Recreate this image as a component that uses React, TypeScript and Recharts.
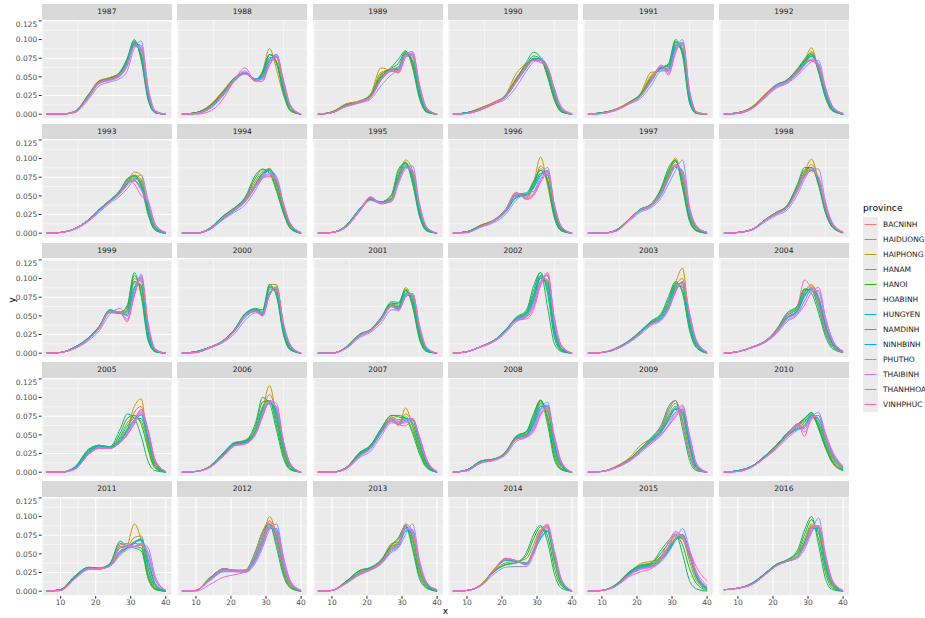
import { CartesianGrid, Line, LineChart, ReferenceLine, XAxis, YAxis } from "recharts"

const provinces = [
  "BACNINH", "HAIDUONG", "HAIPHONG", "HANAM", "HANOI", "HOABINH", "HUNGYEN",
  "NAMDINH", "NINHBINH", "PHUTHO", "THAIBINH", "THANHHOA", "VINHPHUC",
]
const colors = [
  "#F8766D", "#E18A00", "#BE9C00", "#8CAB00", "#24B700", "#00BE70", "#00C1AB",
  "#00BBDA", "#00ACFC", "#8B93FF", "#D575FE", "#F962DD", "#FF65AC",
]
const years = [
  1987, 1988, 1989, 1990, 1991, 1992, 1993, 1994, 1995, 1996, 1997, 1998, 1999, 2000, 2001,
  2002, 2003, 2004, 2005, 2006, 2007, 2008, 2009, 2010, 2011, 2012, 2013, 2014, 2015, 2016,
]
// x positions where the densities were read
const xs = [6, 10, 14, 18, 21, 24, 27, 29, 31, 33, 35, 37, 40]
const xTicks = [10, 20, 30, 40]
const yTicks = [0, 0.025, 0.05, 0.075, 0.1, 0.125]
const xMinor = [5, 15, 25, 35]
const yMinor = [0.0125, 0.0375, 0.0625, 0.0875, 0.1125]

// density x 1000, one row per province (same order as provinces), one column per xs
const d1987 = [
  [0, 0, 3, 24, 42, 47, 53, 68, 92, 85, 28, 3, 0],
  [0, 0, 4, 26, 44, 49, 55, 70, 93, 80, 24, 2, 0],
  [0, 0, 4, 27, 45, 49, 56, 72, 94, 78, 22, 2, 0],
  [0, 0, 3, 25, 44, 48, 56, 72, 96, 78, 22, 2, 0],
  [0, 0, 3, 26, 44, 48, 57, 74, 98, 74, 20, 2, 0],
  [0, 0, 3, 26, 43, 47, 57, 75, 100, 72, 18, 2, 0],
  [0, 0, 3, 25, 43, 47, 55, 72, 97, 80, 22, 2, 0],
  [0, 0, 3, 24, 43, 46, 53, 68, 95, 88, 26, 3, 0],
  [0, 0, 3, 23, 42, 46, 52, 66, 94, 92, 28, 3, 0],
  [0, 0, 2, 20, 38, 43, 48, 58, 88, 98, 36, 5, 0],
  [0, 0, 3, 22, 41, 45, 51, 64, 90, 92, 32, 4, 0],
  [0, 0, 3, 23, 42, 46, 52, 66, 91, 88, 30, 4, 0],
  [0, 0, 3, 24, 43, 47, 53, 67, 91, 86, 30, 3, 0],
]
const d1988 = [
  [0, 2, 10, 30, 46, 54, 46, 50, 70, 76, 40, 10, 0],
  [0, 2, 12, 32, 48, 55, 45, 54, 80, 68, 32, 6, 0],
  [0, 2, 12, 33, 49, 55, 44, 58, 88, 60, 25, 4, 0],
  [0, 2, 11, 31, 48, 55, 45, 54, 80, 70, 30, 6, 0],
  [0, 2, 11, 31, 48, 55, 46, 55, 80, 70, 30, 5, 0],
  [0, 2, 10, 30, 48, 56, 47, 57, 80, 68, 28, 5, 0],
  [0, 1, 9, 29, 47, 56, 47, 52, 76, 76, 35, 8, 0],
  [0, 1, 9, 28, 46, 55, 47, 50, 74, 78, 38, 9, 0],
  [0, 1, 8, 27, 45, 55, 47, 49, 72, 80, 40, 10, 0],
  [0, 1, 7, 26, 44, 54, 47, 46, 66, 80, 46, 12, 0],
  [0, 1, 9, 29, 46, 56, 45, 47, 70, 78, 42, 10, 0],
  [0, 1, 9, 29, 47, 58, 45, 47, 70, 77, 42, 10, 0],
  [0, 0, 4, 22, 46, 62, 44, 44, 66, 76, 44, 11, 0],
]
const d1989 = [
  [0, 3, 12, 17, 24, 50, 58, 60, 78, 76, 32, 6, 0],
  [0, 3, 13, 18, 26, 56, 59, 58, 80, 72, 28, 4, 0],
  [0, 3, 14, 18, 27, 62, 58, 56, 82, 68, 24, 3, 0],
  [0, 3, 13, 17, 25, 54, 60, 62, 82, 70, 26, 4, 0],
  [0, 3, 12, 17, 25, 52, 62, 68, 84, 66, 24, 3, 0],
  [0, 2, 12, 17, 25, 50, 63, 74, 85, 62, 20, 3, 0],
  [0, 2, 12, 17, 24, 50, 60, 64, 82, 72, 28, 5, 0],
  [0, 2, 11, 16, 23, 48, 59, 60, 80, 78, 32, 6, 0],
  [0, 2, 11, 16, 23, 46, 58, 60, 80, 80, 34, 7, 0],
  [0, 2, 10, 15, 20, 38, 53, 60, 80, 84, 40, 9, 0],
  [0, 2, 11, 16, 22, 45, 58, 58, 78, 82, 38, 8, 0],
  [0, 2, 11, 16, 23, 46, 59, 57, 78, 80, 36, 7, 0],
  [0, 2, 11, 17, 23, 47, 60, 55, 76, 82, 38, 8, 0],
]
const d1990 = [
  [0, 2, 7, 16, 24, 44, 64, 73, 72, 58, 28, 6, 0],
  [0, 2, 8, 16, 25, 48, 66, 74, 73, 55, 24, 5, 0],
  [0, 2, 9, 17, 26, 54, 68, 73, 74, 52, 20, 4, 0],
  [0, 2, 8, 16, 25, 48, 66, 75, 73, 54, 22, 4, 0],
  [0, 2, 7, 16, 24, 46, 67, 78, 74, 52, 20, 3, 0],
  [0, 2, 7, 16, 24, 46, 70, 83, 76, 50, 18, 3, 0],
  [0, 2, 7, 16, 24, 45, 65, 75, 74, 58, 26, 5, 0],
  [0, 2, 7, 15, 23, 44, 63, 74, 74, 60, 28, 6, 0],
  [0, 1, 6, 15, 23, 42, 62, 73, 75, 62, 30, 7, 0],
  [0, 1, 6, 14, 20, 36, 58, 70, 74, 64, 34, 10, 1],
  [0, 1, 6, 15, 23, 42, 63, 72, 72, 62, 32, 8, 0],
  [0, 1, 6, 15, 23, 43, 64, 72, 70, 62, 32, 8, 0],
  [0, 1, 7, 16, 24, 44, 66, 72, 69, 62, 30, 7, 0],
]
const d1991 = [
  [0, 2, 6, 16, 25, 46, 62, 58, 88, 92, 24, 2, 0],
  [0, 2, 7, 17, 27, 52, 60, 62, 92, 85, 20, 2, 0],
  [0, 2, 7, 17, 28, 56, 58, 62, 94, 82, 18, 1, 0],
  [0, 2, 6, 16, 26, 50, 62, 64, 96, 84, 18, 1, 0],
  [0, 2, 6, 16, 26, 48, 63, 66, 98, 82, 17, 1, 0],
  [0, 2, 6, 16, 26, 48, 62, 68, 100, 78, 15, 1, 0],
  [0, 2, 6, 16, 25, 46, 63, 64, 96, 88, 20, 2, 0],
  [0, 1, 6, 15, 24, 44, 62, 60, 92, 94, 24, 2, 0],
  [0, 1, 6, 15, 24, 43, 62, 58, 90, 96, 26, 2, 0],
  [0, 1, 5, 14, 21, 38, 58, 58, 86, 100, 32, 3, 0],
  [0, 1, 6, 15, 24, 44, 64, 56, 86, 96, 30, 3, 0],
  [0, 1, 6, 15, 24, 45, 65, 54, 84, 96, 30, 3, 0],
  [0, 1, 6, 15, 24, 46, 66, 52, 82, 96, 30, 3, 0],
]
const d1992 = [
  [0, 2, 8, 26, 38, 44, 56, 67, 72, 62, 30, 8, 0],
  [0, 2, 9, 27, 39, 45, 57, 70, 84, 60, 26, 6, 0],
  [0, 2, 10, 28, 40, 45, 58, 72, 89, 58, 22, 4, 0],
  [0, 2, 9, 27, 39, 45, 58, 70, 80, 60, 26, 6, 0],
  [0, 2, 9, 27, 39, 46, 60, 72, 80, 58, 24, 5, 0],
  [0, 2, 8, 26, 38, 46, 61, 74, 82, 56, 22, 5, 0],
  [0, 2, 8, 26, 39, 45, 58, 70, 78, 60, 26, 6, 0],
  [0, 2, 8, 26, 39, 44, 56, 68, 78, 64, 28, 7, 0],
  [0, 1, 8, 25, 39, 44, 55, 67, 77, 66, 30, 8, 0],
  [0, 1, 7, 23, 35, 41, 52, 62, 70, 72, 36, 11, 1],
  [0, 1, 8, 24, 36, 42, 54, 65, 74, 68, 34, 10, 1],
  [0, 1, 8, 25, 37, 43, 56, 66, 73, 66, 34, 10, 1],
  [0, 2, 8, 26, 38, 44, 57, 68, 72, 62, 32, 9, 1],
]
const d1993 = [
  [0, 1, 6, 18, 31, 43, 54, 66, 74, 68, 34, 8, 0],
  [0, 1, 6, 18, 31, 43, 55, 67, 78, 72, 32, 6, 0],
  [0, 1, 6, 18, 31, 43, 55, 68, 82, 78, 28, 4, 0],
  [0, 1, 6, 18, 31, 43, 56, 70, 76, 70, 28, 5, 0],
  [0, 1, 6, 18, 32, 44, 57, 72, 77, 66, 26, 4, 0],
  [0, 1, 6, 18, 32, 44, 58, 73, 77, 62, 24, 4, 0],
  [0, 1, 6, 18, 31, 43, 56, 68, 74, 64, 32, 6, 0],
  [0, 1, 6, 18, 31, 43, 55, 67, 71, 60, 36, 8, 0],
  [0, 1, 6, 18, 31, 42, 54, 66, 70, 58, 38, 9, 0],
  [0, 1, 5, 16, 28, 40, 50, 60, 72, 78, 44, 12, 1],
  [0, 1, 6, 17, 30, 42, 53, 64, 72, 72, 40, 10, 1],
  [0, 1, 6, 17, 30, 42, 54, 68, 70, 58, 40, 10, 1],
  [0, 1, 6, 17, 30, 42, 55, 70, 66, 50, 42, 12, 1],
]
const d1994 = [
  [0, 0, 6, 22, 32, 44, 66, 80, 84, 66, 34, 10, 0],
  [0, 0, 6, 22, 32, 44, 66, 80, 86, 66, 32, 8, 0],
  [0, 0, 6, 22, 32, 44, 66, 80, 87, 66, 30, 8, 0],
  [0, 0, 6, 23, 33, 46, 70, 82, 84, 62, 30, 8, 0],
  [0, 0, 7, 24, 34, 47, 74, 85, 82, 58, 28, 6, 0],
  [0, 0, 7, 24, 34, 48, 78, 86, 80, 56, 26, 6, 0],
  [0, 0, 6, 22, 32, 44, 66, 80, 84, 68, 34, 10, 0],
  [0, 0, 6, 21, 31, 43, 64, 78, 85, 70, 36, 10, 0],
  [0, 0, 5, 20, 30, 42, 62, 76, 85, 72, 38, 11, 0],
  [0, 0, 5, 19, 28, 38, 58, 74, 84, 76, 40, 13, 1],
  [0, 0, 6, 21, 31, 42, 62, 74, 80, 72, 38, 12, 1],
  [0, 0, 6, 22, 32, 44, 64, 74, 78, 72, 38, 12, 1],
  [0, 0, 6, 22, 32, 45, 66, 74, 76, 70, 36, 11, 1],
]
const d1995 = [
  [0, 1, 9, 32, 44, 40, 44, 70, 90, 80, 32, 6, 0],
  [0, 1, 10, 33, 45, 41, 46, 74, 94, 78, 28, 5, 0],
  [0, 1, 10, 33, 45, 41, 46, 74, 98, 84, 26, 4, 0],
  [0, 1, 10, 33, 45, 41, 48, 78, 94, 74, 26, 4, 0],
  [0, 1, 10, 33, 46, 42, 50, 82, 95, 70, 24, 4, 0],
  [0, 1, 10, 33, 46, 42, 52, 86, 94, 66, 22, 3, 0],
  [0, 1, 10, 33, 46, 41, 46, 76, 92, 76, 30, 5, 0],
  [0, 1, 9, 32, 46, 40, 44, 72, 90, 82, 32, 6, 0],
  [0, 1, 9, 32, 47, 40, 43, 70, 88, 84, 34, 7, 0],
  [0, 1, 8, 30, 44, 40, 42, 66, 86, 90, 40, 9, 0],
  [0, 1, 9, 31, 48, 40, 44, 70, 88, 84, 36, 8, 0],
  [0, 1, 8, 31, 49, 40, 44, 70, 88, 82, 36, 8, 0],
  [0, 1, 8, 30, 48, 39, 44, 70, 88, 84, 36, 8, 0],
]
const d1996 = [
  [0, 2, 10, 18, 30, 50, 50, 62, 80, 78, 30, 6, 0],
  [0, 2, 11, 18, 31, 52, 48, 62, 90, 72, 24, 4, 0],
  [0, 2, 11, 19, 32, 54, 47, 66, 102, 64, 20, 3, 0],
  [0, 2, 10, 18, 31, 52, 50, 66, 86, 72, 24, 4, 0],
  [0, 2, 10, 18, 31, 52, 52, 68, 84, 70, 22, 4, 0],
  [0, 2, 10, 18, 31, 52, 54, 70, 84, 68, 20, 3, 0],
  [0, 2, 10, 18, 30, 50, 52, 64, 80, 78, 28, 5, 0],
  [0, 2, 9, 17, 29, 48, 52, 62, 80, 82, 32, 6, 0],
  [0, 1, 9, 17, 28, 47, 52, 60, 78, 84, 34, 7, 0],
  [0, 1, 8, 15, 25, 44, 54, 56, 76, 88, 38, 9, 0],
  [0, 1, 9, 17, 30, 52, 48, 54, 72, 84, 36, 8, 0],
  [0, 1, 9, 18, 31, 54, 46, 52, 70, 82, 36, 8, 0],
  [0, 1, 9, 18, 31, 55, 45, 50, 68, 80, 36, 8, 0],
]
const d1997 = [
  [0, 0, 3, 19, 31, 37, 54, 74, 90, 78, 30, 8, 1],
  [0, 0, 4, 20, 32, 38, 56, 78, 96, 72, 24, 5, 0],
  [0, 0, 4, 20, 32, 38, 56, 80, 101, 66, 18, 3, 0],
  [0, 0, 4, 20, 32, 38, 58, 82, 96, 66, 20, 4, 0],
  [0, 0, 4, 20, 32, 39, 60, 84, 98, 64, 18, 4, 0],
  [0, 0, 4, 20, 32, 39, 62, 88, 98, 60, 16, 3, 0],
  [0, 0, 4, 20, 32, 38, 56, 78, 92, 74, 24, 6, 1],
  [0, 0, 3, 19, 31, 37, 54, 74, 90, 80, 28, 7, 1],
  [0, 0, 3, 19, 30, 36, 52, 72, 88, 84, 30, 8, 1],
  [0, 0, 3, 17, 28, 34, 48, 66, 84, 98, 36, 10, 1],
  [0, 0, 3, 19, 31, 37, 54, 74, 90, 82, 32, 9, 1],
  [0, 0, 3, 19, 31, 37, 55, 76, 90, 80, 32, 9, 1],
  [0, 0, 3, 19, 31, 38, 56, 76, 92, 78, 30, 8, 1],
]
const d1998 = [
  [0, 1, 5, 18, 26, 34, 58, 76, 84, 72, 36, 12, 1],
  [0, 1, 5, 18, 27, 35, 60, 80, 92, 72, 32, 10, 1],
  [0, 1, 5, 18, 27, 35, 60, 82, 99, 70, 28, 8, 0],
  [0, 1, 5, 19, 28, 36, 62, 82, 88, 68, 30, 9, 1],
  [0, 1, 5, 19, 28, 37, 64, 85, 88, 66, 28, 8, 1],
  [0, 1, 5, 19, 28, 37, 66, 88, 88, 64, 27, 8, 1],
  [0, 1, 5, 18, 27, 35, 60, 80, 86, 70, 32, 10, 1],
  [0, 1, 5, 18, 27, 35, 58, 78, 84, 72, 34, 11, 1],
  [0, 1, 5, 18, 26, 34, 57, 76, 84, 74, 36, 12, 1],
  [0, 1, 4, 16, 24, 31, 52, 72, 86, 86, 42, 14, 2],
  [0, 1, 5, 18, 26, 34, 57, 76, 84, 76, 38, 13, 1],
  [0, 1, 5, 18, 27, 34, 58, 78, 84, 74, 36, 12, 1],
  [0, 1, 5, 18, 27, 35, 60, 80, 84, 72, 34, 11, 1],
]
const d1999 = [
  [0, 1, 8, 20, 35, 55, 54, 54, 88, 96, 30, 4, 0],
  [0, 1, 8, 20, 35, 56, 53, 56, 94, 92, 24, 3, 0],
  [0, 1, 8, 20, 35, 56, 53, 58, 96, 90, 22, 3, 0],
  [0, 1, 8, 20, 35, 57, 54, 60, 100, 86, 20, 2, 0],
  [0, 1, 8, 21, 36, 58, 55, 62, 104, 80, 18, 2, 0],
  [0, 1, 8, 21, 36, 58, 55, 64, 108, 76, 16, 2, 0],
  [0, 1, 8, 20, 35, 56, 53, 56, 96, 90, 22, 3, 0],
  [0, 1, 8, 20, 34, 55, 53, 52, 88, 98, 28, 4, 0],
  [0, 1, 7, 19, 33, 54, 54, 50, 84, 100, 32, 4, 0],
  [0, 1, 6, 17, 30, 52, 60, 50, 78, 106, 40, 6, 0],
  [0, 1, 7, 19, 33, 55, 55, 46, 80, 104, 36, 5, 0],
  [0, 1, 7, 19, 34, 56, 54, 44, 78, 102, 36, 5, 0],
  [0, 1, 7, 19, 34, 56, 54, 42, 76, 102, 38, 5, 0],
]
const d2000 = [
  [0, 2, 8, 17, 30, 50, 56, 52, 80, 86, 34, 8, 0],
  [0, 2, 8, 17, 31, 51, 57, 52, 88, 84, 30, 6, 0],
  [0, 2, 8, 17, 31, 51, 57, 52, 92, 92, 28, 5, 0],
  [0, 2, 8, 17, 31, 52, 58, 54, 88, 82, 28, 5, 0],
  [0, 2, 8, 18, 32, 53, 59, 56, 90, 78, 26, 5, 0],
  [0, 2, 8, 18, 32, 53, 60, 58, 92, 76, 24, 4, 0],
  [0, 2, 8, 17, 31, 52, 58, 54, 86, 82, 30, 6, 0],
  [0, 2, 8, 17, 30, 50, 57, 52, 82, 86, 34, 8, 0],
  [0, 1, 7, 16, 29, 48, 56, 52, 80, 88, 36, 9, 0],
  [0, 1, 7, 15, 26, 44, 54, 54, 78, 90, 40, 11, 0],
  [0, 1, 8, 17, 30, 50, 56, 50, 78, 88, 38, 10, 0],
  [0, 1, 8, 17, 30, 51, 57, 50, 78, 88, 38, 10, 0],
  [0, 1, 8, 17, 30, 51, 56, 50, 78, 88, 38, 10, 0],
]
const d2001 = [
  [0, 0, 7, 24, 30, 44, 64, 60, 78, 76, 30, 5, 0],
  [0, 0, 8, 25, 31, 46, 64, 60, 84, 72, 26, 4, 0],
  [0, 0, 8, 25, 31, 46, 64, 62, 88, 68, 22, 3, 0],
  [0, 0, 8, 25, 31, 46, 66, 64, 84, 68, 22, 3, 0],
  [0, 0, 8, 25, 31, 46, 67, 66, 84, 66, 20, 3, 0],
  [0, 0, 8, 26, 32, 48, 69, 68, 86, 62, 18, 2, 0],
  [0, 0, 8, 25, 31, 46, 65, 62, 82, 72, 26, 4, 0],
  [0, 0, 7, 24, 31, 45, 64, 60, 80, 76, 30, 5, 0],
  [0, 0, 7, 23, 30, 44, 63, 60, 78, 78, 32, 6, 0],
  [0, 0, 6, 21, 28, 40, 58, 58, 76, 80, 38, 8, 0],
  [0, 0, 7, 23, 30, 44, 62, 58, 76, 80, 36, 7, 0],
  [0, 0, 7, 24, 31, 45, 64, 58, 76, 80, 34, 7, 0],
  [0, 0, 7, 24, 31, 45, 63, 57, 75, 80, 34, 7, 0],
]
const d2002 = [
  [0, 2, 9, 18, 30, 44, 50, 68, 96, 98, 38, 8, 0],
  [0, 2, 9, 18, 30, 44, 50, 70, 100, 96, 34, 6, 0],
  [0, 2, 9, 18, 30, 44, 49, 70, 102, 98, 32, 5, 0],
  [0, 2, 9, 18, 31, 46, 54, 78, 104, 88, 26, 4, 0],
  [0, 2, 9, 18, 31, 47, 56, 84, 108, 80, 20, 3, 0],
  [0, 2, 9, 18, 31, 48, 58, 90, 108, 62, 12, 2, 0],
  [0, 2, 9, 18, 31, 46, 54, 78, 104, 86, 26, 4, 0],
  [0, 2, 9, 18, 31, 46, 53, 74, 102, 92, 30, 5, 0],
  [0, 2, 9, 18, 30, 45, 52, 72, 100, 94, 32, 6, 0],
  [0, 2, 8, 16, 27, 42, 50, 68, 96, 104, 40, 9, 0],
  [0, 2, 9, 17, 29, 44, 50, 64, 94, 104, 42, 9, 0],
  [0, 2, 9, 17, 29, 44, 48, 62, 94, 106, 44, 10, 0],
  [0, 2, 9, 17, 29, 44, 46, 58, 90, 108, 46, 10, 0],
]
const d2003 = [
  [0, 1, 6, 16, 27, 39, 46, 62, 84, 92, 48, 14, 1],
  [0, 1, 6, 16, 27, 39, 46, 62, 90, 100, 44, 12, 1],
  [0, 1, 6, 16, 27, 39, 46, 62, 94, 114, 40, 10, 1],
  [0, 1, 6, 17, 28, 41, 50, 68, 92, 88, 38, 10, 1],
  [0, 1, 6, 17, 29, 42, 52, 72, 94, 84, 34, 8, 0],
  [0, 1, 7, 18, 30, 43, 54, 76, 96, 80, 30, 7, 0],
  [0, 1, 6, 17, 28, 41, 50, 68, 90, 90, 40, 10, 1],
  [0, 1, 6, 17, 28, 40, 48, 64, 88, 94, 44, 12, 1],
  [0, 1, 6, 16, 27, 40, 47, 62, 86, 95, 46, 13, 1],
  [0, 1, 5, 15, 25, 37, 44, 58, 82, 96, 54, 17, 2],
  [0, 1, 6, 16, 27, 39, 46, 60, 84, 96, 50, 15, 1],
  [0, 1, 6, 16, 27, 39, 46, 60, 84, 96, 50, 15, 1],
  [0, 1, 6, 16, 27, 39, 46, 60, 82, 96, 52, 16, 1],
]
const d2004 = [
  [0, 2, 8, 16, 28, 46, 58, 76, 88, 76, 40, 16, 2],
  [0, 2, 8, 16, 28, 46, 58, 80, 90, 74, 36, 13, 2],
  [0, 2, 8, 16, 28, 46, 58, 82, 92, 72, 34, 12, 1],
  [0, 2, 8, 17, 30, 50, 62, 84, 86, 66, 30, 10, 1],
  [0, 2, 8, 17, 31, 52, 64, 86, 84, 60, 26, 8, 1],
  [0, 2, 8, 17, 32, 54, 64, 86, 80, 54, 22, 6, 1],
  [0, 2, 8, 17, 30, 50, 60, 82, 86, 66, 32, 11, 1],
  [0, 2, 8, 16, 29, 48, 58, 78, 86, 72, 36, 13, 2],
  [0, 2, 8, 16, 28, 47, 56, 76, 86, 74, 38, 14, 2],
  [0, 2, 7, 15, 26, 42, 52, 70, 86, 82, 46, 18, 3],
  [0, 2, 8, 16, 28, 46, 54, 70, 84, 84, 44, 17, 2],
  [0, 2, 8, 16, 28, 44, 52, 64, 82, 88, 48, 18, 3],
  [0, 2, 8, 17, 30, 50, 64, 98, 86, 66, 30, 10, 1],
]
const d2005 = [
  [0, 0, 5, 26, 35, 33, 42, 54, 70, 80, 52, 14, 0],
  [0, 0, 5, 27, 36, 34, 42, 56, 80, 88, 40, 8, 0],
  [0, 0, 5, 27, 36, 34, 42, 56, 88, 98, 32, 5, 0],
  [0, 0, 6, 29, 36, 33, 48, 66, 74, 68, 36, 8, 0],
  [0, 0, 6, 30, 36, 33, 52, 72, 76, 64, 30, 6, 0],
  [0, 0, 7, 31, 36, 34, 58, 78, 72, 48, 14, 2, 0],
  [0, 0, 6, 29, 36, 33, 46, 62, 72, 72, 40, 10, 0],
  [0, 0, 5, 27, 35, 32, 44, 58, 70, 76, 44, 12, 0],
  [0, 0, 5, 26, 34, 32, 42, 56, 68, 78, 46, 13, 0],
  [0, 0, 4, 24, 33, 32, 40, 50, 64, 78, 54, 16, 1],
  [0, 0, 4, 24, 32, 32, 40, 50, 66, 82, 54, 16, 1],
  [0, 0, 4, 24, 32, 32, 40, 50, 66, 84, 56, 16, 1],
  [0, 0, 4, 24, 32, 32, 40, 52, 70, 84, 52, 14, 1],
]
const d2006 = [
  [0, 1, 7, 24, 37, 40, 52, 76, 94, 82, 38, 10, 0],
  [0, 1, 7, 24, 37, 41, 54, 82, 104, 78, 32, 7, 0],
  [0, 1, 7, 24, 38, 43, 54, 84, 116, 72, 26, 5, 0],
  [0, 1, 8, 26, 38, 41, 58, 88, 96, 68, 26, 5, 0],
  [0, 1, 8, 26, 39, 41, 62, 94, 96, 62, 22, 4, 0],
  [0, 1, 8, 27, 40, 42, 66, 100, 92, 56, 18, 3, 0],
  [0, 1, 8, 26, 38, 40, 56, 86, 96, 72, 30, 7, 0],
  [0, 1, 7, 25, 38, 40, 54, 82, 94, 78, 34, 8, 0],
  [0, 1, 7, 24, 37, 39, 52, 78, 92, 82, 36, 9, 0],
  [0, 1, 6, 22, 35, 38, 50, 74, 96, 92, 40, 10, 0],
  [0, 1, 7, 23, 36, 38, 52, 76, 94, 86, 40, 11, 0],
  [0, 1, 7, 23, 36, 38, 52, 78, 96, 84, 40, 11, 0],
  [0, 1, 7, 23, 36, 38, 52, 76, 94, 88, 40, 10, 0],
]
const d2007 = [
  [0, 0, 5, 23, 33, 52, 70, 66, 72, 70, 42, 14, 0],
  [0, 0, 5, 24, 34, 54, 72, 64, 78, 66, 36, 10, 0],
  [0, 0, 5, 24, 34, 54, 72, 62, 86, 62, 30, 8, 0],
  [0, 0, 6, 26, 35, 56, 74, 70, 74, 62, 32, 9, 0],
  [0, 0, 6, 26, 36, 58, 76, 74, 72, 56, 28, 7, 0],
  [0, 0, 6, 27, 36, 58, 76, 76, 72, 52, 24, 6, 0],
  [0, 0, 6, 25, 35, 55, 72, 68, 72, 66, 36, 11, 0],
  [0, 0, 5, 24, 34, 54, 70, 64, 70, 70, 40, 12, 0],
  [0, 0, 5, 23, 33, 53, 68, 64, 68, 72, 42, 13, 0],
  [0, 0, 4, 20, 28, 48, 66, 66, 70, 72, 46, 16, 1],
  [0, 0, 5, 22, 32, 52, 68, 64, 68, 72, 46, 16, 1],
  [0, 0, 5, 22, 32, 52, 70, 66, 66, 72, 46, 16, 1],
  [0, 0, 5, 22, 31, 52, 72, 64, 62, 70, 48, 18, 1],
]
const d2008 = [
  [0, 3, 14, 17, 25, 44, 48, 62, 84, 88, 40, 10, 0],
  [0, 3, 14, 17, 25, 45, 50, 66, 90, 84, 34, 8, 0],
  [0, 3, 14, 17, 26, 47, 54, 72, 96, 76, 26, 5, 0],
  [0, 3, 15, 18, 26, 47, 52, 72, 94, 74, 24, 5, 0],
  [0, 3, 15, 18, 27, 48, 54, 76, 96, 70, 20, 4, 0],
  [0, 3, 15, 18, 27, 48, 55, 78, 97, 64, 16, 3, 0],
  [0, 3, 14, 17, 26, 46, 51, 70, 92, 82, 30, 7, 0],
  [0, 3, 14, 17, 25, 45, 50, 66, 88, 88, 36, 9, 0],
  [0, 2, 13, 17, 25, 44, 49, 64, 86, 90, 38, 10, 0],
  [0, 2, 12, 16, 23, 41, 47, 60, 84, 94, 44, 12, 0],
  [0, 2, 13, 17, 24, 44, 48, 58, 80, 88, 44, 12, 0],
  [0, 2, 13, 17, 25, 44, 48, 56, 78, 86, 46, 13, 0],
  [0, 2, 13, 17, 25, 44, 47, 54, 76, 86, 48, 14, 0],
]
const d2009 = [
  [0, 1, 7, 17, 29, 41, 54, 68, 80, 82, 42, 8, 0],
  [0, 1, 7, 18, 32, 43, 56, 72, 84, 80, 36, 6, 0],
  [0, 1, 8, 20, 36, 45, 56, 74, 86, 76, 32, 5, 0],
  [0, 1, 7, 18, 31, 44, 60, 80, 92, 70, 26, 4, 0],
  [0, 1, 7, 18, 31, 45, 62, 84, 96, 66, 22, 3, 0],
  [0, 1, 7, 18, 31, 46, 64, 88, 96, 58, 16, 2, 0],
  [0, 1, 7, 17, 30, 43, 58, 76, 88, 78, 34, 6, 0],
  [0, 1, 7, 17, 29, 42, 56, 72, 86, 82, 38, 7, 0],
  [0, 1, 6, 16, 28, 41, 54, 70, 84, 84, 40, 8, 0],
  [0, 1, 6, 15, 26, 38, 50, 64, 80, 90, 48, 11, 0],
  [0, 1, 6, 16, 28, 40, 50, 62, 76, 88, 48, 11, 0],
  [0, 1, 6, 16, 28, 40, 52, 62, 74, 86, 50, 12, 0],
  [0, 1, 7, 17, 30, 44, 62, 84, 96, 66, 24, 4, 0],
]
const d2010 = [
  [0, 2, 8, 22, 34, 48, 58, 64, 74, 66, 44, 24, 6],
  [0, 2, 8, 22, 35, 50, 62, 68, 76, 62, 38, 18, 4],
  [0, 2, 8, 23, 36, 52, 64, 70, 74, 60, 34, 14, 3],
  [0, 2, 8, 23, 36, 52, 62, 70, 78, 62, 36, 16, 3],
  [0, 2, 8, 23, 36, 52, 64, 72, 80, 60, 34, 14, 3],
  [0, 2, 8, 23, 36, 52, 64, 72, 80, 58, 32, 12, 2],
  [0, 2, 8, 22, 35, 50, 60, 66, 78, 66, 40, 20, 4],
  [0, 2, 8, 22, 34, 49, 58, 62, 76, 70, 44, 22, 5],
  [0, 2, 7, 21, 33, 48, 58, 60, 76, 72, 46, 24, 6],
  [0, 1, 7, 20, 31, 45, 56, 60, 74, 80, 52, 28, 8],
  [0, 1, 7, 21, 33, 48, 62, 58, 72, 76, 50, 26, 7],
  [0, 1, 7, 21, 33, 48, 64, 54, 70, 76, 48, 26, 7],
  [0, 1, 7, 21, 34, 50, 65, 48, 74, 76, 46, 24, 6],
]
const d2011 = [
  [0, 2, 18, 30, 30, 34, 54, 58, 66, 68, 40, 10, 0],
  [0, 2, 19, 31, 30, 34, 52, 58, 72, 74, 30, 5, 0],
  [0, 2, 19, 31, 30, 34, 50, 60, 90, 68, 20, 3, 0],
  [0, 2, 20, 31, 30, 35, 60, 60, 64, 62, 24, 4, 0],
  [0, 2, 20, 32, 31, 36, 64, 60, 60, 58, 20, 3, 0],
  [0, 2, 20, 32, 31, 37, 67, 60, 58, 54, 16, 2, 0],
  [0, 2, 19, 31, 30, 35, 58, 60, 66, 68, 30, 6, 0],
  [0, 2, 19, 31, 30, 34, 54, 58, 66, 70, 36, 8, 0],
  [0, 2, 18, 30, 30, 34, 52, 58, 64, 70, 42, 10, 0],
  [0, 1, 16, 29, 30, 33, 48, 56, 60, 64, 58, 20, 1],
  [0, 1, 17, 30, 30, 34, 54, 60, 60, 64, 52, 16, 1],
  [0, 1, 17, 30, 30, 34, 58, 62, 60, 62, 50, 16, 1],
  [0, 1, 17, 30, 30, 34, 62, 64, 60, 62, 48, 15, 1],
]
const d2012 = [
  [0, 1, 16, 29, 27, 26, 42, 64, 86, 80, 40, 12, 1],
  [0, 1, 17, 30, 27, 26, 44, 68, 94, 78, 34, 9, 0],
  [0, 1, 17, 30, 27, 26, 44, 70, 100, 74, 26, 6, 0],
  [0, 1, 18, 30, 28, 27, 48, 74, 90, 70, 28, 6, 0],
  [0, 1, 18, 30, 28, 28, 52, 78, 90, 64, 24, 5, 0],
  [0, 1, 18, 30, 28, 28, 54, 80, 90, 58, 20, 4, 0],
  [0, 1, 17, 29, 28, 27, 46, 70, 88, 74, 32, 8, 0],
  [0, 1, 16, 28, 27, 26, 44, 66, 86, 80, 36, 10, 0],
  [0, 1, 15, 27, 27, 26, 42, 62, 84, 84, 40, 11, 0],
  [0, 1, 14, 26, 26, 25, 38, 58, 82, 90, 46, 14, 1],
  [0, 1, 16, 28, 27, 26, 44, 68, 90, 78, 38, 11, 1],
  [0, 0, 9, 19, 22, 26, 40, 62, 86, 82, 42, 12, 1],
  [0, 1, 17, 30, 28, 28, 52, 80, 94, 66, 30, 8, 1],
]
const d2013 = [
  [0, 1, 11, 24, 30, 38, 56, 62, 84, 76, 34, 9, 1],
  [0, 1, 12, 25, 30, 39, 60, 64, 86, 72, 30, 8, 1],
  [0, 1, 12, 25, 30, 40, 64, 66, 88, 70, 28, 7, 0],
  [0, 1, 13, 27, 31, 40, 60, 66, 86, 66, 24, 6, 0],
  [0, 1, 13, 28, 31, 41, 62, 70, 88, 60, 20, 5, 0],
  [0, 1, 13, 28, 32, 42, 62, 72, 88, 56, 16, 4, 0],
  [0, 1, 12, 25, 30, 39, 58, 64, 84, 72, 30, 8, 1],
  [0, 1, 11, 24, 29, 38, 56, 62, 82, 78, 34, 9, 1],
  [0, 1, 11, 23, 29, 37, 54, 60, 80, 82, 36, 10, 1],
  [0, 1, 10, 22, 28, 36, 52, 58, 76, 90, 42, 12, 1],
  [0, 1, 11, 23, 29, 38, 56, 62, 84, 82, 38, 12, 2],
  [0, 1, 11, 23, 29, 38, 56, 64, 90, 80, 36, 11, 2],
  [0, 1, 11, 24, 30, 39, 58, 64, 90, 78, 34, 10, 2],
]
const d2014 = [
  [0, 1, 8, 29, 42, 40, 36, 52, 76, 86, 50, 14, 0],
  [0, 1, 9, 30, 43, 41, 36, 54, 78, 86, 46, 12, 0],
  [0, 1, 9, 31, 44, 41, 35, 52, 78, 88, 44, 11, 0],
  [0, 1, 8, 28, 38, 40, 44, 62, 82, 80, 38, 9, 0],
  [0, 1, 8, 27, 36, 38, 48, 70, 86, 74, 30, 7, 0],
  [0, 1, 8, 27, 35, 38, 52, 76, 88, 66, 22, 4, 0],
  [0, 1, 8, 29, 41, 40, 38, 56, 76, 82, 42, 11, 0],
  [0, 1, 8, 29, 42, 40, 37, 54, 72, 80, 46, 12, 0],
  [0, 1, 8, 29, 42, 40, 37, 52, 70, 80, 48, 13, 0],
  [0, 1, 7, 24, 32, 33, 33, 48, 74, 84, 54, 16, 1],
  [0, 1, 8, 29, 43, 41, 36, 54, 80, 86, 50, 14, 0],
  [0, 1, 8, 29, 44, 41, 36, 56, 82, 88, 48, 14, 0],
  [0, 1, 8, 29, 44, 41, 36, 54, 80, 90, 50, 14, 0],
]
const d2015 = [
  [0, 1, 8, 24, 32, 34, 44, 56, 68, 74, 54, 24, 5],
  [0, 1, 8, 25, 34, 36, 44, 56, 70, 76, 50, 20, 3],
  [0, 1, 8, 25, 37, 40, 44, 56, 70, 76, 48, 18, 3],
  [0, 1, 8, 26, 34, 36, 48, 60, 72, 70, 40, 14, 2],
  [0, 1, 9, 26, 34, 37, 52, 64, 74, 62, 30, 10, 1],
  [0, 1, 9, 27, 35, 38, 56, 68, 76, 50, 14, 3, 0],
  [0, 1, 8, 25, 33, 35, 46, 58, 70, 72, 46, 18, 3],
  [0, 1, 8, 24, 32, 34, 44, 56, 68, 74, 50, 20, 4],
  [0, 1, 7, 23, 31, 33, 42, 54, 68, 76, 52, 22, 4],
  [0, 1, 7, 22, 30, 32, 40, 52, 68, 84, 56, 24, 5],
  [0, 1, 7, 22, 29, 32, 44, 60, 76, 72, 52, 26, 8],
  [0, 1, 7, 20, 26, 30, 42, 60, 78, 74, 54, 32, 14],
  [0, 1, 7, 23, 30, 34, 48, 66, 80, 70, 46, 22, 6],
]
const d2016 = [
  [2, 4, 10, 24, 35, 40, 46, 62, 82, 86, 42, 12, 0],
  [2, 4, 10, 24, 35, 40, 46, 64, 86, 86, 38, 10, 0],
  [2, 4, 10, 24, 35, 40, 46, 64, 88, 82, 32, 7, 0],
  [2, 4, 10, 25, 36, 41, 50, 70, 90, 78, 30, 6, 0],
  [2, 4, 10, 25, 36, 42, 52, 76, 96, 70, 24, 4, 0],
  [2, 4, 11, 25, 36, 42, 55, 82, 100, 62, 16, 2, 0],
  [2, 4, 10, 24, 35, 40, 48, 66, 86, 80, 34, 8, 0],
  [2, 4, 10, 24, 35, 40, 46, 62, 84, 84, 38, 10, 0],
  [2, 4, 10, 24, 35, 40, 46, 60, 80, 86, 42, 12, 0],
  [2, 4, 9, 23, 34, 40, 44, 56, 78, 98, 50, 14, 0],
  [2, 4, 9, 23, 34, 40, 46, 60, 82, 88, 46, 14, 1],
  [2, 4, 9, 23, 34, 40, 46, 62, 84, 86, 46, 14, 1],
  [2, 4, 9, 23, 34, 40, 46, 62, 86, 88, 44, 12, 1],
]

const densities = [
  d1987, d1988, d1989, d1990, d1991, d1992, d1993, d1994, d1995, d1996, d1997, d1998, d1999, d2000, d2001,
  d2002, d2003, d2004, d2005, d2006, d2007, d2008, d2009, d2010, d2011, d2012, d2013, d2014, d2015, d2016,
]

const PANEL_W = 130.4
const PANEL_H = 98.9
const STRIP_H = 15.8
const LEFT0 = 41.7
const COL_STEP = 135.4
const TOP0 = 4.3
const ROW_STEP = 119.2
const Y_AXIS_W = 41.7
const X_AXIS_H = 16
const FONT = "'DejaVu Sans', sans-serif"
const tickStyle = { fontSize: 7.5, fill: "#4D4D4D", fontFamily: FONT }

function Panel({ idx }: { idx: number }) {
  const col = idx % 6
  const row = Math.floor(idx / 6)
  const showY = col === 0
  const showX = row === 4
  const left = LEFT0 + col * COL_STEP
  const top = TOP0 + row * ROW_STEP

  const rows = xs.map((x, i) => {
    const r: Record<string, number> = { x }
    provinces.forEach((p, j) => {
      r[p] = densities[idx][j][i] / 1000
    })
    return r
  })

  return (
    <>
      <div
        style={{
          position: "absolute",
          left,
          top,
          width: PANEL_W,
          height: STRIP_H,
          lineHeight: `${STRIP_H}px`,
          background: "#D9D9D9",
          color: "#1A1A1A",
          fontSize: 7.5,
          textAlign: "center",
        }}
      >
        {years[idx]}
      </div>
      <div style={{ position: "absolute", left: left - (showY ? Y_AXIS_W : 0), top: top + STRIP_H }}>
        <LineChart
          width={PANEL_W + (showY ? Y_AXIS_W : 0)}
          height={PANEL_H + (showX ? X_AXIS_H : 0)}
          data={rows}
          margin={{ top: 0, right: 0, bottom: 0, left: 0 }}
        >
          <CartesianGrid fill="#EBEBEB" fillOpacity={1} stroke="#FFFFFF" strokeWidth={1.1} />
          <XAxis
            type="number"
            dataKey="x"
            domain={[4.6, 41.8]}
            allowDataOverflow
            ticks={xTicks}
            height={showX ? X_AXIS_H : 0}
            tick={showX ? tickStyle : false}
            tickLine={showX ? { stroke: "#333333" } : false}
            axisLine={false}
            tickSize={3}
            tickMargin={1}
          />
          <YAxis
            type="number"
            domain={[-0.0063, 0.1262]}
            allowDataOverflow
            ticks={yTicks}
            width={showY ? Y_AXIS_W : 0}
            tick={showY ? tickStyle : false}
            tickLine={showY ? { stroke: "#333333" } : false}
            axisLine={false}
            tickSize={3}
            tickMargin={1.5}
            tickFormatter={(v: number) => v.toFixed(3)}
          />
          {xMinor.map((v) => (
            <ReferenceLine key={`x${v}`} x={v} stroke="#FFFFFF" strokeWidth={0.5} />
          ))}
          {yMinor.map((v) => (
            <ReferenceLine key={`y${v}`} y={v} stroke="#FFFFFF" strokeWidth={0.5} />
          ))}
          {provinces.map((p, j) => (
            <Line
              key={p}
              dataKey={p}
              type="monotone"
              stroke={colors[j]}
              strokeWidth={1}
              dot={false}
              activeDot={false}
              isAnimationActive={false}
            />
          ))}
        </LineChart>
      </div>
    </>
  )
}

function ProvinceLegend() {
  return (
    <div style={{ position: "absolute", left: 863, top: 202 }}>
      <div style={{ fontSize: 9.2, color: "#000", lineHeight: "12px", height: 15 }}>province</div>
      {provinces.map((p, j) => (
        <div key={p} style={{ display: "flex", alignItems: "center", height: 15 }}>
          <svg width={15} height={15} style={{ display: "block" }}>
            <rect width={15} height={15} fill="#EBEBEB" />
            <line x1={1.5} x2={13.5} y1={7.5} y2={7.5} stroke={colors[j]} strokeWidth={1} />
          </svg>
          <span style={{ marginLeft: 5, fontSize: 7.5, color: "#1A1A1A", whiteSpace: "nowrap" }}>{p}</span>
        </div>
      ))}
    </div>
  )
}

export default function App() {
  return (
    <div
      style={{
        position: "absolute",
        left: 0,
        top: 0,
        width: 925,
        height: 618,
        background: "#FFFFFF",
        fontFamily: FONT,
        overflow: "hidden",
      }}
    >
      {years.map((y, i) => (
        <Panel key={y} idx={i} />
      ))}
      <div
        style={{
          position: "absolute",
          left: 6,
          top: 294,
          width: 12,
          height: 12,
          fontSize: 9.2,
          lineHeight: "12px",
          textAlign: "center",
          transform: "rotate(-90deg)",
        }}
      >
        y
      </div>
      <div
        style={{
          position: "absolute",
          left: 439.4,
          top: 605,
          width: 12,
          fontSize: 9.2,
          lineHeight: "12px",
          textAlign: "center",
        }}
      >
        x
      </div>
      <ProvinceLegend />
    </div>
  )
}
